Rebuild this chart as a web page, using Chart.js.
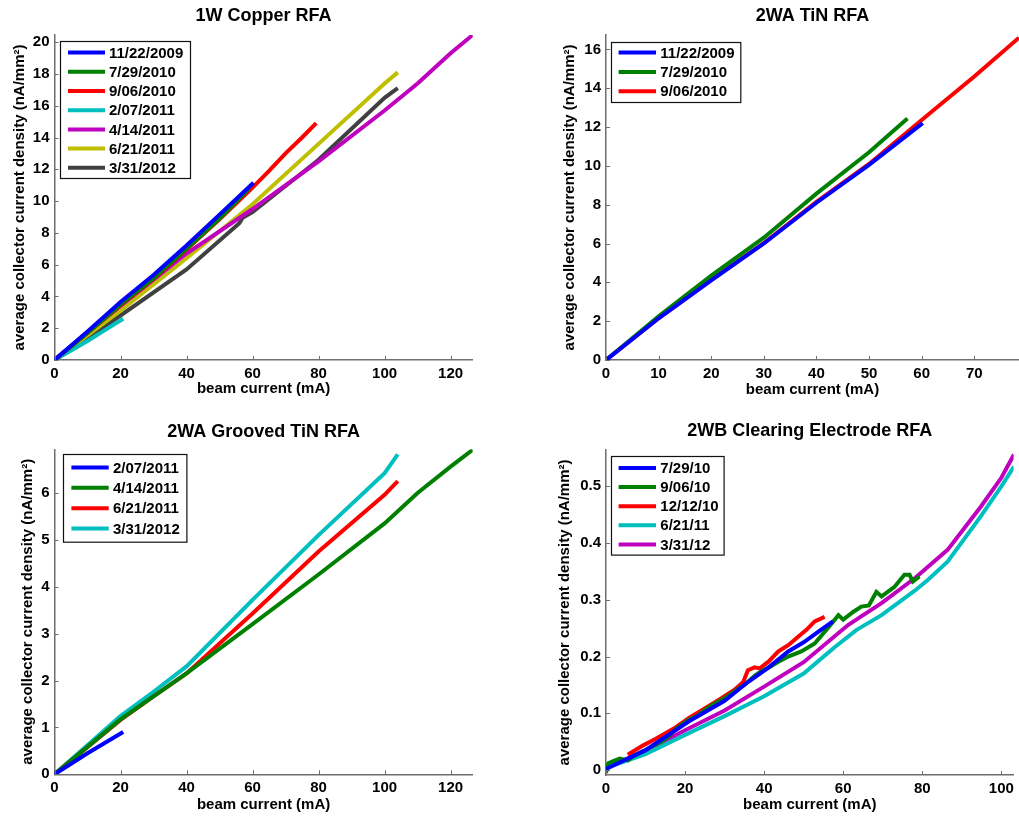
<!DOCTYPE html>
<html><head><meta charset="utf-8">
<script src="https://cdn.jsdelivr.net/npm/chart.js@4.4.1/dist/chart.umd.min.js"></script>
<style>
html,body{margin:0;padding:0;background:#fff;width:1019px;height:818px;overflow:hidden}
.c{position:absolute}
</style></head><body>
<div class="c" style="left:0;top:0"><canvas id="c1" width="509" height="405"></canvas></div>
<div class="c" style="left:510px;top:0"><canvas id="c2" width="509" height="405"></canvas></div>
<div class="c" style="left:0;top:405px"><canvas id="c3" width="509" height="413"></canvas></div>
<div class="c" style="left:510px;top:405px"><canvas id="c4" width="509" height="413"></canvas></div>
<script>
// ---------- Chart 1: 1W Copper RFA ----------
const cu_labels = ['11/22/2009','7/29/2010','9/06/2010','2/07/2011','4/14/2011','6/21/2011','3/31/2012'];
const cu_1122_x = [0,10,20,30,40,50,60.3];
const cu_1122_y = [0,1.8,3.65,5.35,7.2,9.15,11.15];
const cu_0729_x = [0,10,20,30,40,50,59];
const cu_0729_y = [0,1.7,3.5,5.15,7.0,8.9,10.8];
const cu_0906_x = [0,10,20,30,40,50,60,65,70,75,79.3];
const cu_0906_y = [0,1.7,3.45,5.1,6.95,8.85,10.85,11.9,13.0,14.0,14.9];
const cu_0207_x = [0,5,10,15,20.8];
const cu_0207_y = [0,0.6,1.2,1.85,2.6];
const cu_0414_x = [0,10,20,40,60,80,100,110,120,126.7];
const cu_0414_y = [0,1.75,3.4,6.7,9.5,12.5,15.7,17.4,19.3,20.45];
const cu_0621_x = [0,20,40,60,80,100,104];
const cu_0621_y = [0,3.1,6.4,9.8,13.6,17.4,18.1];
const cu_0331_x = [0,20,40,56,57,60,80,100,104];
const cu_0331_y = [0,2.8,5.7,8.6,8.95,9.3,12.6,16.5,17.1];
const cu_xticks = [0,20,40,60,80,100,120];
const cu_yticks = [0,2,4,6,8,10,12,14,16,18,20];

// ---------- Chart 2: 2WA TiN RFA ----------
const tin_labels = ['11/22/2009','7/29/2010','9/06/2010'];
const tin_1122_x = [0,10,20,30,40,50,60.2];
const tin_1122_y = [0,2.15,4.1,6.0,8.1,10.05,12.2];
const tin_0729_x = [0,10,20,30,40,50,57.3];
const tin_0729_y = [0,2.25,4.35,6.3,8.57,10.7,12.44];
const tin_0906_x = [0,10,20,30,40,50,60,70,78.5];
const tin_0906_y = [0,2.15,4.13,6.02,8.14,10.1,12.36,14.6,16.6];
const tin_xticks = [0,10,20,30,40,50,60,70];
const tin_yticks = [0,2,4,6,8,10,12,14,16];

// ---------- Chart 3: 2WA Grooved TiN RFA ----------
const gr_labels = ['2/07/2011','4/14/2011','6/21/2011','3/31/2012'];
const gr_0207_x = [0,10,20.8];
const gr_0207_y = [0,0.45,0.9];
const gr_0414_x = [0,20,30,40,60,80,100,110,120,126.7];
const gr_0414_y = [0,1.17,1.66,2.15,3.2,4.26,5.35,6.0,6.56,6.92];
const gr_0621_x = [0,20,30,40,60,80,100,104];
const gr_0621_y = [0,1.16,1.66,2.15,3.43,4.75,5.96,6.25];
const gr_0331_x = [0,20,30,40,60,80,100,104];
const gr_0331_y = [0,1.24,1.76,2.3,3.72,5.1,6.42,6.82];
const gr_xticks = [0,20,40,60,80,100,120];
const gr_yticks = [0,1,2,3,4,5,6];

// ---------- Chart 4: 2WB Clearing Electrode RFA ----------
const ce_labels = ['7/29/10','9/06/10','12/12/10','6/21/11','3/31/12'];
const ce_0729_x = [0,10,21,30,35.9,41,46.1,50,54,57.4];
const ce_0729_y = [0.002,0.035,0.086,0.122,0.155,0.18,0.209,0.225,0.245,0.262];
const ce_0906_x = [0,0.6,2,3.5,5.6,7,10,12,14,16,17.6,21,23,25,27,29.3,31,33.4,35,37.6,39,41,43.4,46.1,49.4,52.8,56.1,58.8,60,62.6,64.6,66.5,68.4,69.7,73,75.5,76.8,77.6,79.3];
const ce_0906_y = [-0.005,0.012,0.016,0.02,0.017,0.025,0.035,0.043,0.05,0.06,0.072,0.089,0.095,0.106,0.115,0.124,0.131,0.143,0.15,0.166,0.173,0.18,0.19,0.2,0.209,0.223,0.25,0.273,0.265,0.279,0.288,0.29,0.314,0.306,0.323,0.344,0.344,0.332,0.341];
const ce_1212_x = [5.5,9.3,12.6,17.6,21,26,29.3,32.6,34.7,35.9,37.6,38.9,41.1,43.6,46.1,48.6,50.7,52.8,55.3];
const ce_1212_y = [0.027,0.043,0.055,0.075,0.092,0.113,0.127,0.142,0.155,0.176,0.181,0.179,0.191,0.209,0.22,0.235,0.247,0.262,0.27];
const ce_0621_x = [0,10,20,30,40,50,57.6,63.4,69.7,78.1,81.4,86.4,94.8,100,103.2];
const ce_0621_y = [0.004,0.028,0.062,0.095,0.13,0.17,0.215,0.247,0.273,0.316,0.335,0.367,0.447,0.5,0.535];
const ce_0331_x = [0,10,20,30,40,50,61.3,69.7,78.1,86.4,94.8,100,103.2];
const ce_0331_y = [0.005,0.033,0.07,0.105,0.147,0.19,0.256,0.294,0.338,0.388,0.464,0.515,0.556];
const ce_xticks = [0,20,40,60,80,100];
const ce_yticks = [0,0.1,0.2,0.3,0.4,0.5];

// ---------- common styling ----------
const FONT = "'Liberation Sans', Arial, Helvetica, sans-serif";
const AXIS = '#6e6e6e';
const COL = {blue:'#0000ff', green:'#008000', red:'#ff0000', cyan:'#00bfbf', magenta:'#bf00bf', yellow:'#bfbf00', gray:'#404040'};
const LW = 4;

function series(label, xs, ys, color){
  return {label, data: xs.map((x,i)=>({x:x, y:ys[i]})), borderColor: color, backgroundColor: color,
    borderWidth: LW, pointRadius: 0, pointHoverRadius: 0, showLine: true, tension: 0, fill: false};
}

const boxLegend = {
  id: 'boxLegend',
  afterDatasetsDraw(chart, args, o){
    const ctx = chart.ctx, a = chart.chartArea;
    const x0 = Math.round(a.left + o.x), y0 = Math.round(a.top + o.y);
    ctx.save();
    ctx.fillStyle = '#fff';
    ctx.fillRect(x0, y0, o.w, o.h);
    ctx.strokeStyle = '#111'; ctx.lineWidth = 1.2;
    ctx.strokeRect(x0 + 0.5, y0 + 0.5, o.w, o.h);
    ctx.font = 'bold 15px ' + FONT;
    ctx.textBaseline = 'middle'; ctx.textAlign = 'left';
    chart.data.datasets.forEach((d, i) => {
      const y = y0 + o.row0 + i * o.step;
      ctx.strokeStyle = d.borderColor; ctx.lineWidth = LW; ctx.lineCap = 'butt';
      ctx.beginPath(); ctx.moveTo(x0 + o.l0, y); ctx.lineTo(x0 + o.l1, y); ctx.stroke();
      ctx.fillStyle = '#000';
      ctx.fillText(d.label, x0 + o.tx, y + 1);
    });
    ctx.restore();
  }
};

const inTicks = {
  id: 'inTicks',
  afterDraw(chart){
    const ctx = chart.ctx, a = chart.chartArea, xs = chart.scales.x, ys = chart.scales.y;
    ctx.save();
    ctx.strokeStyle = AXIS; ctx.lineWidth = 1;
    ctx.beginPath();
    xs.ticks.forEach(t => { const p = Math.round(xs.getPixelForValue(t.value)) + 0.5; ctx.moveTo(p, a.bottom); ctx.lineTo(p, a.bottom - 4); });
    ys.ticks.forEach(t => { const p = Math.round(ys.getPixelForValue(t.value)) + 0.5; ctx.moveTo(a.left, p); ctx.lineTo(a.left + 4, p); });
    ctx.stroke();
    ctx.restore();
  }
};

function makeChart(id, title, datasets, c){
  const tickFont = {family: FONT, size: 15, weight: 'bold'};
  const titleFont = {family: FONT, size: 15, weight: 'bold'};
  return new Chart(document.getElementById(id), {
    type: 'scatter',
    data: {datasets},
    plugins: [boxLegend, inTicks],
    options: {
      responsive: false, animation: false, events: [],
      layout: {padding: {left: c.padL, right: c.padR, top: 0, bottom: 0}},
      plugins: {
        legend: {display: false}, tooltip: {enabled: false},
        title: {display: true, text: title, color: '#000', fullSize: false,
          font: {family: FONT, size: 18, weight: 'bold'}, padding: {top: c.tTop, bottom: c.tBot}},
        boxLegend: c.leg
      },
      scales: {
        x: {type: 'linear', min: 0, max: c.xmax,
          afterBuildTicks: s => { s.ticks = c.xt.map(v => ({value: v})); },
          afterFit: s => { s.height = c.xh; },
          grid: {display: false, drawTicks: false},
          border: {display: true, color: AXIS, width: 1.5},
          ticks: {color: '#000', font: tickFont, padding: c.xpad, maxRotation: 0, autoSkip: false, callback: v => String(v)},
          title: {display: true, text: 'beam current (mA)', color: '#000', font: titleFont, padding: {top: 0, bottom: c.xtb}}
        },
        y: {type: 'linear', min: c.ymin, max: c.ymax,
          afterBuildTicks: s => { s.ticks = c.yt.map(v => ({value: v})); },
          afterFit: s => { s.width = c.yw; },
          grid: {display: false, drawTicks: false},
          border: {display: true, color: AXIS, width: 1.5},
          ticks: {color: '#000', font: tickFont, padding: 5, autoSkip: false, callback: v => String(v)},
          title: {display: true, text: 'average collector current density (nA/mm\u00B2)', color: '#000', font: titleFont, padding: {top: 0, bottom: 0}}
        }
      }
    }
  });
}

makeChart('c1', '1W Copper RFA', [
  series(cu_labels[0], cu_1122_x, cu_1122_y, COL.blue),
  series(cu_labels[1], cu_0729_x, cu_0729_y, COL.green),
  series(cu_labels[2], cu_0906_x, cu_0906_y, COL.red),
  series(cu_labels[3], cu_0207_x, cu_0207_y, COL.cyan),
  series(cu_labels[4], cu_0414_x, cu_0414_y, COL.magenta),
  series(cu_labels[5], cu_0621_x, cu_0621_y, COL.yellow),
  series(cu_labels[6], cu_0331_x, cu_0331_y, COL.gray)
], {padL: 11, padR: 36.3, yw: 43.5, xh: 45, xpad: 4.5, xtb: 7.2, tTop: 5.2, tBot: 8.2,
    xmax: 126.7, ymin: 0, ymax: 20.45, xt: cu_xticks, yt: cu_yticks,
    leg: {x: 5.5, y: 5.7, w: 130, h: 137, row0: 11.6, step: 19.2, l0: 8, l1: 45, tx: 49}});

makeChart('c2', '2WA TiN RFA', [
  series(tin_labels[0], tin_1122_x, tin_1122_y, COL.blue),
  series(tin_labels[1], tin_0729_x, tin_0729_y, COL.green),
  series(tin_labels[2], tin_0906_x, tin_0906_y, COL.red)
], {padL: 51, padR: 0, yw: 45, xh: 45, xpad: 4.5, xtb: 6.2, tTop: 5.2, tBot: 8.2,
    xmax: 78.5, ymin: 0, ymax: 16.74, xt: tin_xticks, yt: tin_yticks,
    leg: {x: 4.7, y: 6.7, w: 129.3, h: 60, row0: 10.6, step: 19.35, l0: 7.6, l1: 45, tx: 49.3}});

makeChart('c3', '2WA Grooved TiN RFA', [
  series(gr_labels[0], gr_0207_x, gr_0207_y, COL.blue),
  series(gr_labels[1], gr_0414_x, gr_0414_y, COL.green),
  series(gr_labels[2], gr_0621_x, gr_0621_y, COL.red),
  series(gr_labels[3], gr_0331_x, gr_0331_y, COL.cyan)
], {padL: 19, padR: 36.3, yw: 35.5, xh: 43.7, xpad: 5, xtb: 4, tTop: 15.9, tBot: 6.8,
    xmax: 126.7, ymin: 0, ymax: 6.93, xt: gr_xticks, yt: gr_yticks,
    leg: {x: 8.8, y: 5, w: 123.4, h: 87.7, row0: 13.4, step: 20.4, l0: 8.4, l1: 45.7, tx: 50}});

makeChart('c4', '2WB Clearing Electrode RFA', [
  series(ce_labels[0], ce_0729_x, ce_0729_y, COL.blue),
  series(ce_labels[1], ce_0906_x, ce_0906_y, COL.green),
  series(ce_labels[2], ce_1212_x, ce_1212_y, COL.red),
  series(ce_labels[3], ce_0621_x, ce_0621_y, COL.cyan),
  series(ce_labels[4], ce_0331_x, ce_0331_y, COL.magenta)
], {padL: 46, padR: 0, yw: 50, xh: 43, xpad: 5, xtb: 4, tTop: 14.9, tBot: 8.5,
    xmax: 103.1, ymin: -0.0088, ymax: 0.564, xt: ce_xticks, yt: ce_yticks,
    leg: {x: 4.7, y: 5.7, w: 112.6, h: 98.6, row0: 12, step: 19.1, l0: 7.6, l1: 45, tx: 49.3}});
</script>
</body></html>
